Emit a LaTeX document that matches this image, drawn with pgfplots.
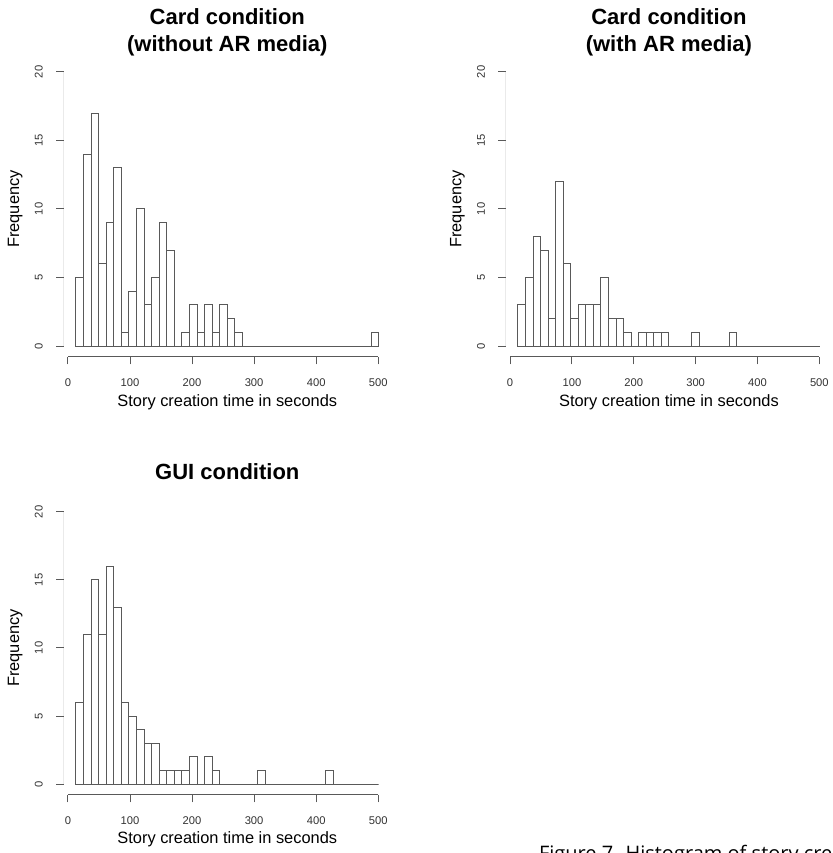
\documentclass[border=0pt]{standalone}
\usepackage{fontspec}
\setmainfont{Liberation Sans}
\newfontfamily\capfont{Open Sans}
\usepackage{pgfplots}
\usepackage{pgfplotstable}
\pgfplotsset{compat=1.18}

% bin left edges (last row = closing edge), counts
\pgfplotstableread{
x y
12.8 5
25.0 14
37.2 17
49.4 6
61.6 9
73.8 13
86.0 1
98.2 4
110.4 10
122.6 3
134.8 5
147.0 9
159.2 7
171.4 0
183.6 1
195.8 3
208.0 1
220.2 3
232.4 1
244.6 3
256.8 2
269.0 1
281.2 0
293.4 0
305.6 0
317.8 0
330.0 0
342.2 0
354.4 0
366.6 0
378.8 0
391.0 0
403.2 0
415.4 0
427.6 0
439.8 0
452.0 0
464.2 0
476.4 0
488.6 1
500.8 0
}\cardnoar

\pgfplotstableread{
x y
12.8 3
25.0 5
37.2 8
49.4 7
61.6 2
73.8 12
86.0 6
98.2 2
110.4 3
122.6 3
134.8 3
147.0 5
159.2 2
171.4 2
183.6 1
195.8 0
208.0 1
220.2 1
232.4 1
244.6 1
256.8 0
269.0 0
281.2 0
293.4 1
305.6 0
317.8 0
330.0 0
342.2 0
354.4 1
366.6 0
378.8 0
391.0 0
403.2 0
415.4 0
427.6 0
439.8 0
452.0 0
464.2 0
476.4 0
488.6 0
500.8 0
}\cardar

\pgfplotstableread{
x y
12.8 6
25.0 11
37.2 15
49.4 11
61.6 16
73.8 13
86.0 6
98.2 5
110.4 4
122.6 3
134.8 3
147.0 1
159.2 1
171.4 1
183.6 1
195.8 2
208.0 0
220.2 2
232.4 1
244.6 0
256.8 0
269.0 0
281.2 0
293.4 0
305.6 1
317.8 0
330.0 0
342.2 0
354.4 0
366.6 0
378.8 0
391.0 0
403.2 0
415.4 1
427.6 0
439.8 0
452.0 0
464.2 0
476.4 0
488.6 0
500.8 0
}\gui

\pgfplotsset{
  rhist/.style={
    scale only axis, width=163.5pt, height=148pt,
    xmin=-6.7, xmax=520.3, ymin=-0.8, ymax=20.8,
    axis line style={draw=none},
    tick pos=left, tick align=outside,
    major tick length=3.75pt,
    tick style={black!65, line width=0.5pt},
    xtick={0,100,...,500}, ytick={0,5,...,20},
    tick label style={font=\fontsize{5.6}{6}\selectfont, text=black!80},
    /pgf/number format/assume math mode=true,
    yticklabel style={rotate=90, anchor=south},
    xticklabel shift=3.5pt, yticklabel shift=3.2pt,
    xlabel={Story creation time in seconds}, ylabel={Frequency},
    label style={font=\fontsize{8.2}{10}\selectfont},
    xlabel style={at={(axis description cs:0.5,-0.152)}, anchor=center},
    ylabel style={at={(axis description cs:-0.149,0.5)}, anchor=center},
    every axis title shift=0pt,
    title style={at={(axis description cs:0.5,1)}, anchor=center, yshift=14.5pt,
      font=\bfseries\fontsize{11}{13.5}\selectfont, align=center},
  },
  bars/.style={ybar interval, draw=black!65, fill=white, line width=0.5pt},
}

\newcommand{\raxes}{%
  \draw[black!65, line width=0.5pt] (axis cs:0,-0.8) -- (axis cs:500,-0.8);
  \draw[black!65, line width=0.5pt] (axis cs:-6.7,0) -- (axis cs:-6.7,20);
}

\begin{document}
\begin{tikzpicture}
\path[use as bounding box] (0,0) rectangle (416pt,426.5pt);

\begin{axis}[rhist, at={(31.9pt,248pt)}, anchor=south west,
  title={Card condition\\(without AR media)}]
  \addplot[bars] table {\cardnoar};
  \raxes
\end{axis}

\begin{axis}[rhist, at={(252.95pt,248pt)}, anchor=south west, width=163pt,
  title={Card condition\\(with AR media)}]
  \addplot[bars] table {\cardar};
  \raxes
\end{axis}

\begin{axis}[rhist, at={(31.9pt,29pt)}, anchor=south west, height=147pt,
  title={GUI condition}]
  \addplot[bars] table {\gui};
  \raxes
\end{axis}

\node[anchor=base west, font=\capfont\fontsize{10}{12}\selectfont] at (266pt,-3.9pt)
  {Figure 7. Histogram of story creation times};
\end{tikzpicture}
\end{document}
